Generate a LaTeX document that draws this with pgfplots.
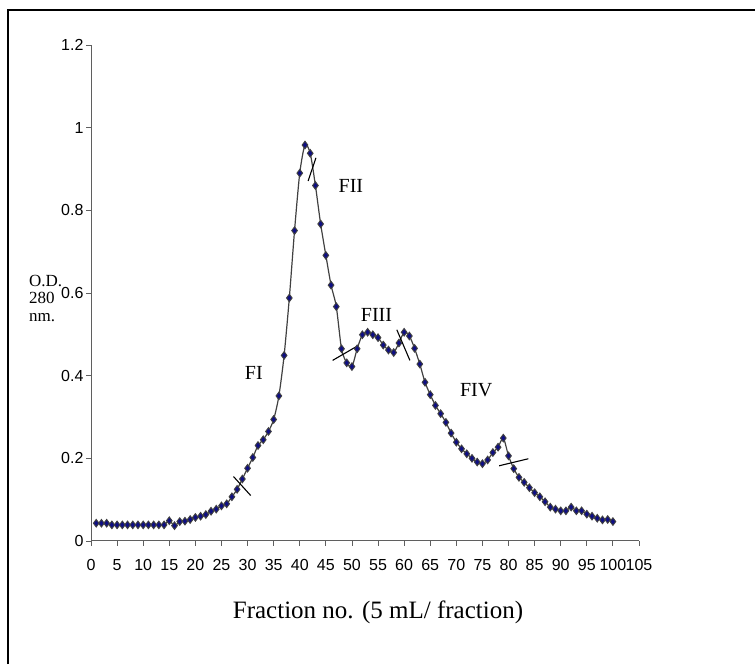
\documentclass[border=0pt]{standalone}
\usepackage{fontspec}
\setmainfont{Liberation Serif}
\setsansfont{Liberation Sans}
\usepackage{pgfplots}
\pgfplotsset{compat=1.18}
\definecolor{axgray}{RGB}{95,95,95}
\definecolor{mkblue}{RGB}{15,15,130}
\definecolor{mkedge}{RGB}{65,65,65}

\pgfplotstableread{
x y
1 0.043
2 0.043
3 0.043
4 0.039
5 0.039
6 0.039
7 0.039
8 0.039
9 0.039
10 0.039
11 0.039
12 0.039
13 0.039
14 0.039
15 0.049
16 0.037
17 0.047
18 0.048
19 0.052
20 0.057
21 0.060
22 0.064
23 0.072
24 0.077
25 0.085
26 0.090
27 0.107
28 0.125
29 0.150
30 0.176
31 0.202
32 0.231
33 0.245
34 0.265
35 0.294
36 0.351
37 0.449
38 0.588
39 0.751
40 0.890
41 0.958
42 0.938
43 0.860
44 0.767
45 0.691
46 0.619
47 0.567
48 0.465
49 0.431
50 0.422
51 0.465
52 0.499
53 0.505
54 0.499
55 0.492
56 0.474
57 0.462
58 0.456
59 0.479
60 0.505
61 0.496
62 0.466
63 0.428
64 0.384
65 0.354
66 0.328
67 0.308
68 0.287
69 0.261
70 0.239
71 0.223
72 0.211
73 0.200
74 0.191
75 0.187
76 0.196
77 0.214
78 0.227
79 0.249
80 0.206
81 0.175
82 0.154
83 0.142
84 0.129
85 0.117
86 0.107
87 0.095
88 0.082
89 0.077
90 0.073
91 0.073
92 0.082
93 0.073
94 0.073
95 0.065
96 0.060
97 0.055
98 0.051
99 0.052
100 0.047
}\datatable

\begin{document}
\begin{tikzpicture}[x=1pt,y=1pt]
\useasboundingbox (0,0) rectangle (755,664);
\draw[line width=1.4pt] (8,0) -- (8,654) -- (755,654);
\begin{axis}[
  at={(91pt,123pt)}, anchor=south west,
  scale only axis, width=548pt, height=496pt,
  xmin=0, xmax=105, ymin=0, ymax=1.2,
  axis x line*=bottom, axis y line*=left,
  axis line style={axgray, line width=1pt, -},
  xtick={0,5,...,105}, ytick={0,0.2,...,1.2},
  yticklabels={0,0.2,0.4,0.6,0.8,1,1.2},
  tick align=outside, major tick length=5pt,
  tick style={axgray, line width=0.9pt},
  /pgf/number format/assume math mode=true,
  tick label style={font=\fontsize{16}{18}\sffamily},
  xticklabel style={yshift=-10pt},
  yticklabel style={xshift=1pt},
  clip=false,
]
\addplot[smooth, tension=0.45, color=mkedge, line width=1.2pt,
  mark=diamond*, mark size=3.8pt,
  mark options={fill=mkblue, draw=mkedge, line width=0.9pt, solid}] table[x=x,y=y] {\datatable};
\draw[black, line width=1.1pt] (axis cs:27.3,0.156) -- (axis cs:30.6,0.110);
\draw[black, line width=1.1pt] (axis cs:43.1,0.927) -- (axis cs:41.6,0.871);
\draw[black, line width=1.1pt] (axis cs:46.3,0.437) -- (axis cs:50.8,0.470);
\draw[black, line width=1.1pt] (axis cs:58.6,0.511) -- (axis cs:61.1,0.437);
\draw[black, line width=1.1pt] (axis cs:78.2,0.182) -- (axis cs:83.8,0.199);
\node[font=\fontsize{20}{22}\selectfont] at (axis cs:31.2,0.407) {FI};
\node[font=\fontsize{20}{22}\selectfont] at (axis cs:49.8,0.858) {FII};
\node[font=\fontsize{20}{22}\selectfont] at (axis cs:54.7,0.547) {FIII};
\node[font=\fontsize{20}{22}\selectfont] at (axis cs:73.8,0.366) {FIV};
\end{axis}
\node[anchor=west, align=left, inner sep=0pt, font=\fontsize{17}{17.5}\selectfont] at (29,366) {O.D.\\280\\nm.};
\node[font=\fontsize{25}{27}\selectfont] at (378,52) {Fraction no. (5 mL/ fraction)};
\end{tikzpicture}
\end{document}
